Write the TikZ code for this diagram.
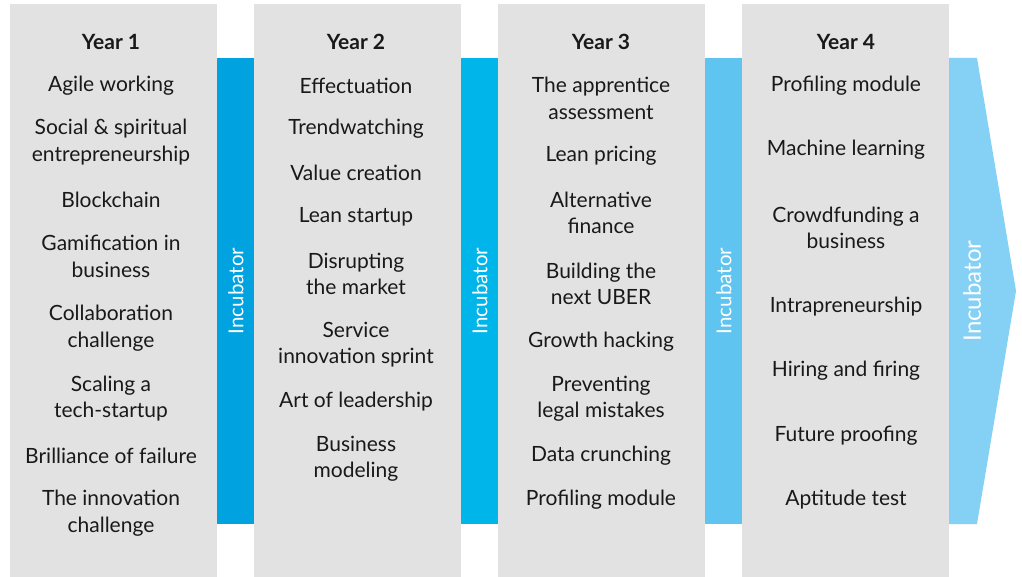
\documentclass[tikz,border=0pt]{standalone}
\usepackage{fontspec}
\setmainfont{Lato}
\definecolor{panelgrey}{HTML}{E2E2E2}
\definecolor{blueA}{HTML}{00A3E0}
\definecolor{blueB}{HTML}{00B5EA}
\definecolor{blueC}{HTML}{60C4F0}
\definecolor{blueD}{HTML}{85D1F5}
\begin{document}
\begin{tikzpicture}[x=1pt,y=-1pt,
  panel/.style={fill=panelgrey,draw=none},
  item/.style={align=center,inner sep=0pt,font=\fontsize{21}{26.5}\selectfont,text=black!90},
  head/.style={item,font=\fontsize{21}{26.5}\selectfont\bfseries},
  incub/.style={rotate=90,text=white,inner sep=0pt,font=\fontsize{20.5}{24}\selectfont}]
\useasboundingbox (0,0) rectangle (1022,577);
\fill[white] (0,0) rectangle (1022,577);
% panels
\fill[panelgrey] (10,4) rectangle (217,577);
\fill[panelgrey] (254,4) rectangle (461,577);
\fill[panelgrey] (498,4) rectangle (705,577);
\fill[panelgrey] (742,4) rectangle (949,577);
% bars
\fill[blueA] (217,58) rectangle (254,524);
\fill[blueB] (461,58) rectangle (498,524);
\fill[blueC] (705,58) rectangle (742,524);
\fill[blueD] (949,58) -- (977,58) -- (1016,291) -- (977,524) -- (949,524) -- cycle;
\node[incub] (i1) at (236,291) {Incubator};
\node[incub] (i2) at (480,291) {Incubator};
\node[incub] (i3) at (724,291) {Incubator};
\node[incub,font=\fontsize{24}{26}\selectfont] (i4) at (972,291) {Incubator};
% Year 1
\node[head] (h1) at (111,41.5) {Year 1};
\node[item] (a1) at (111,86) {Agile working};
\node[item] (a2) at (111,142) {Social \& spiritual\\entrepreneurship};
\node[item] (a3) at (111,200) {Blockchain};
\node[item] (a4) at (111,256.5) {Gamification in\\business};
\node[item] (a5) at (111,328) {Collaboration\\challenge};
\node[item] (a6) at (111,398.5) {Scaling a\\tech-startup};
\node[item] (a7) at (111,456) {Brilliance of failure};
\node[item] (a8) at (111,513) {The innovation\\challenge};
% Year 2
\node[head] (h2) at (356,41.5) {Year 2};
\node[item] (b1) at (356,86) {Effectuation};
\node[item] (b2) at (356,129) {Trendwatching};
\node[item] (b3) at (356,173) {Value creation};
\node[item] (b4) at (356,217) {Lean startup};
\node[item] (b5) at (356,274) {Disrupting\\the market};
\node[item] (b6) at (356,344.5) {Service\\innovation sprint};
\node[item] (b7) at (356,402) {Art of leadership};
\node[item] (b8) at (356,459) {Business\\modeling};
% Year 3
\node[head] (h3) at (601,41.5) {Year 3};
\node[item] (c1) at (601,98.5) {The apprentice\\assessment};
\node[item] (c2) at (601,156) {Lean pricing};
\node[item] (c3) at (601,213) {Alternative\\finance};
\node[item] (c4) at (601,284) {Building the\\next UBER};
\node[item] (c5) at (601,342) {Growth hacking};
\node[item] (c6) at (601,398.5) {Preventing\\legal mistakes};
\node[item] (c7) at (601,456) {Data crunching};
\node[item] (c8) at (601,500) {Profiling module};
% Year 4
\node[head] (h4) at (846,41.5) {Year 4};
\node[item] (d1) at (846,86) {Profiling module};
\node[item] (d2) at (846,150) {Machine learning};
\node[item] (d3) at (846,228) {Crowdfunding a\\business};
\node[item] (d4) at (846,307) {Intrapreneurship};
\node[item] (d5) at (846,371) {Hiring and firing};
\node[item] (d6) at (846,436) {Future proofing};
\node[item] (d7) at (846,500) {Aptitude test};
\end{tikzpicture}
\end{document}
